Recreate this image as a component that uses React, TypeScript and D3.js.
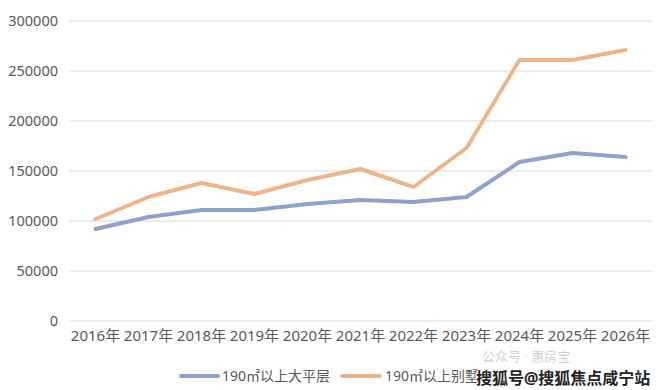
import React from "react";
import * as d3 from "d3";

const categories = ["2016年", "2017年", "2018年", "2019年", "2020年", "2021年", "2022年", "2023年", "2024年", "2025年", "2026年"];
const flatValues = [92000, 104000, 111000, 111000, 117000, 121000, 119000, 124000, 159000, 168000, 164000];
const villaValues = [102000, 124000, 138000, 127000, 141000, 152000, 134000, 173000, 261000, 261000, 271000];
const yTicks = [0, 50000, 100000, 150000, 200000, 250000, 300000];
const seriesNames = ["190㎡以上大平层", "190㎡以上别墅"];
const colors = ["#8DA3CA", "#EDB68A"];

export default function App() {
  const W = 660, H = 390;
  const left = 69, right = 652, top = 21, bottom = 321;
  const x = d3.scaleBand<string>().domain(categories).range([left, right]);
  const y = d3.scaleLinear().domain([0, 300000]).range([bottom, top]);
  const line = d3.line<number>()
    .x((_, i) => (x(categories[i]) as number) + x.bandwidth() / 2)
    .y((d) => y(d));
  const font = "'Noto Sans', 'Noto Sans CJK SC', sans-serif";
  return (
    <svg width={W} height={H} style={{ position: "absolute", left: 0, top: 0, background: "#fff" }} fontFamily={font}>
      <rect width={W} height={H} fill="#fff" />
      {yTicks.map((t) => (
        <g key={t}>
          <line x1={left} x2={right} y1={y(t)} y2={y(t)} stroke="#d9d9d9" strokeWidth={1} />
          <text x={58} y={y(t)} dy="0.35em" textAnchor="end" fontSize={14.5} fill="#595959">{t}</text>
        </g>
      ))}
      {categories.map((c) => (
        <text key={c} x={(x(c) as number) + x.bandwidth() / 2} y={341} textAnchor="middle" fontSize={15} fill="#595959">{c}</text>
      ))}
      {[flatValues, villaValues].map((vals, i) => (
        <path key={i} d={line(vals) || ""} fill="none" stroke={colors[i]} strokeWidth={4} strokeLinejoin="round" strokeLinecap="round" />
      ))}
      <g>
        <line x1={181} x2={218} y1={376} y2={376} stroke={colors[0]} strokeWidth={4} strokeLinecap="round" />
        <text x={222} y={376} dy="0.35em" fontSize={14} fill="#595959">{seriesNames[0]}</text>
        <line x1={342} x2={380} y1={376} y2={376} stroke={colors[1]} strokeWidth={4} strokeLinecap="round" />
        <text x={385} y={376} dy="0.35em" fontSize={14} fill="#595959">{seriesNames[1]}</text>
      </g>
      <text x={482} y={356} dy="0.35em" fontSize={13} fill="#c8c8c8" opacity={0.8}>公众号 · 惠房宝</text>
      <text x={476} y={378} dy="0.35em" fontSize={16} fontWeight="bold" fill="#222" stroke="#fff" strokeWidth={2} paintOrder="stroke">搜狐号@搜狐焦点咸宁站</text>
    </svg>
  );
}
